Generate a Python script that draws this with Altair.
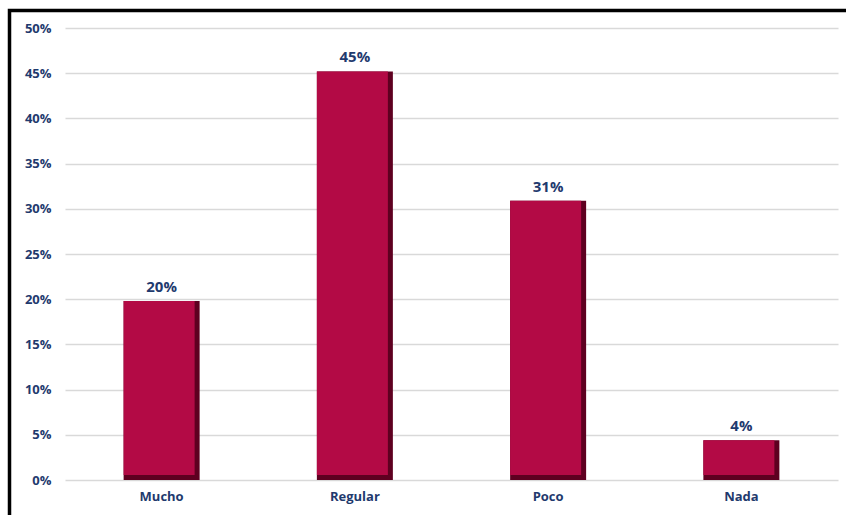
import altair as alt
import pandas as pd

categories = ["Mucho", "Regular", "Poco", "Nada"]
values = [0.198, 0.452, 0.309, 0.044]
y_ticks = [0, 0.05, 0.10, 0.15, 0.20, 0.25, 0.30, 0.35, 0.40, 0.45, 0.50]

df = pd.DataFrame({"cat": categories, "val": values, "zero": [0, 0, 0, 0]})

FONT = "Open Sans"
NAVY = "#1F3A6E"
W, H = 773, 452

x_enc = alt.X("cat:N", sort=categories, title=None,
              scale=alt.Scale(paddingInner=0, paddingOuter=0),
              axis=alt.Axis(labelAngle=0, labelFont=FONT, labelFontSize=13,
                            labelFontWeight="bold", labelColor=NAVY,
                            labelPadding=10, ticks=False, domain=False))
y_enc = alt.Y("val:Q", title=None,
              scale=alt.Scale(domain=[0, 0.5], nice=False),
              axis=alt.Axis(values=y_ticks, format=".0%", labelFont=FONT,
                            labelFontSize=13, labelFontWeight="bold",
                            labelColor=NAVY, labelPadding=14, ticks=False,
                            domain=False, grid=True, gridColor="#D9D9D9",
                            gridWidth=1.5))

base = alt.Chart(df)

shadow = base.mark_bar(size=76, color="#5E0020").encode(x=x_enc, y=y_enc)
front = base.mark_bar(size=71, color="#B30A45", xOffset=-2.5, y2Offset=-5).encode(
    x=x_enc, y=y_enc, y2="zero:Q")
labels = base.mark_text(dy=-14, font=FONT, fontSize=15, fontWeight="bold",
                        color=NAVY).encode(
    x=x_enc, y=y_enc, text=alt.Text("val:Q", format=".0%"))

frame = alt.Chart(pd.DataFrame({"a": [0]})).mark_rect(
    fill=None, stroke="#000000", strokeWidth=3.5, clip=False).encode(
    x=alt.value(-55.5), x2=alt.value(W + 60),
    y=alt.value(-17.5), y2=alt.value(H + 60))

chart = alt.layer(shadow, front, labels, frame).properties(
    width=W, height=H,
    padding={"left": 65, "top": 28, "right": 8, "bottom": 35},
    autosize="none", background="white",
).configure_view(stroke=None)

chart.save("out.html", embed_options={"renderer": "svg", "actions": False})
